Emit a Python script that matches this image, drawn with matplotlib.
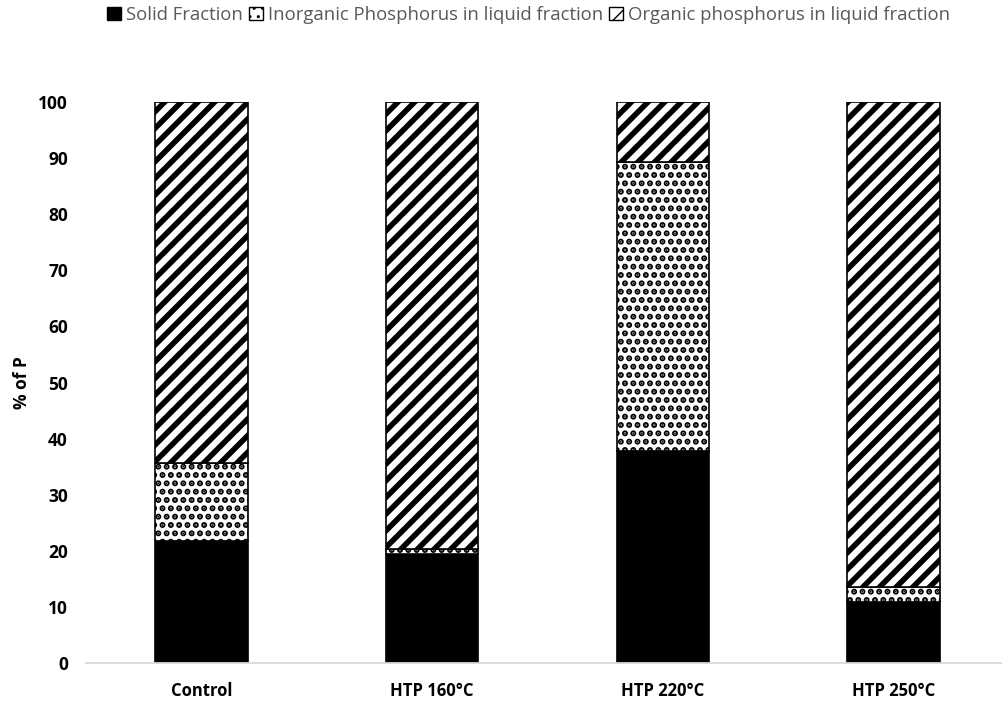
import matplotlib
matplotlib.use('Agg')
import matplotlib.pyplot as plt
from matplotlib.patches import Patch

categories = ['Control', 'HTP 160°C', 'HTP 220°C', 'HTP 250°C']
solid_fraction = [21.7, 19.4, 37.8, 10.9]
inorganic_p = [13.9, 0.9, 51.5, 2.6]
organic_p = [64.4, 79.7, 10.7, 86.5]
series_names = ['Solid Fraction', 'Inorganic Phosphorus in liquid fraction',
                'Organic phosphorus in liquid fraction']

plt.rcParams['font.family'] = ['Open Sans', 'DejaVu Sans']

fig = plt.figure(figsize=(10.03, 7.06), dpi=100)
ax = fig.add_axes([86 / 1003, 43 / 706, 917 / 1003, 561 / 706])

x = list(range(len(categories)))
width = 0.40
bottom2 = [a + b for a, b in zip(solid_fraction, inorganic_p)]

b1 = ax.bar(x, solid_fraction, width, color='black', edgecolor='black', linewidth=1.2)
with plt.rc_context({'hatch.linewidth': 3.0}):
    b2 = ax.bar(x, inorganic_p, width, bottom=solid_fraction, color='white',
                edgecolor='black', linewidth=1.2, hatch='..')
with plt.rc_context({'hatch.linewidth': 4.0}):
    b3 = ax.bar(x, organic_p, width, bottom=bottom2, color='white',
                edgecolor='black', linewidth=1.2, hatch='//')

ax.set_xlim(-0.5, 3.474)
ax.set_ylim(0, 100)
ax.set_yticks(range(0, 101, 10))
ax.set_xticks(x)
ax.set_xticklabels(categories, fontsize=12, fontweight='bold')
ax.tick_params(axis='y', length=0, pad=13, labelsize=12.5)
ax.tick_params(axis='x', length=0, pad=14)
for lbl in ax.get_yticklabels():
    lbl.set_fontweight('bold')
ax.set_ylabel('% of P', fontsize=12.5, fontweight='bold', labelpad=5)

for s in ['top', 'right', 'left']:
    ax.spines[s].set_visible(False)
ax.spines['bottom'].set_color('#d9d9d9')
ax.spines['bottom'].set_linewidth(1.3)

with plt.rc_context({'hatch.linewidth': 1.5}):
    handles = [Patch(facecolor='black', edgecolor='black', label=series_names[0]),
               Patch(facecolor='white', edgecolor='black', hatch='..', label=series_names[1]),
               Patch(facecolor='white', edgecolor='black', hatch='//', label=series_names[2])]
leg = fig.legend(handles=handles, loc='center', bbox_to_anchor=(0.527, 0.979),
                 ncol=3, frameon=False, fontsize=13.3, handlelength=0.75,
                 handleheight=0.75, handletextpad=0.25, columnspacing=0.35,
                 labelcolor='#595959')

fig.savefig('out.png', dpi=100)
